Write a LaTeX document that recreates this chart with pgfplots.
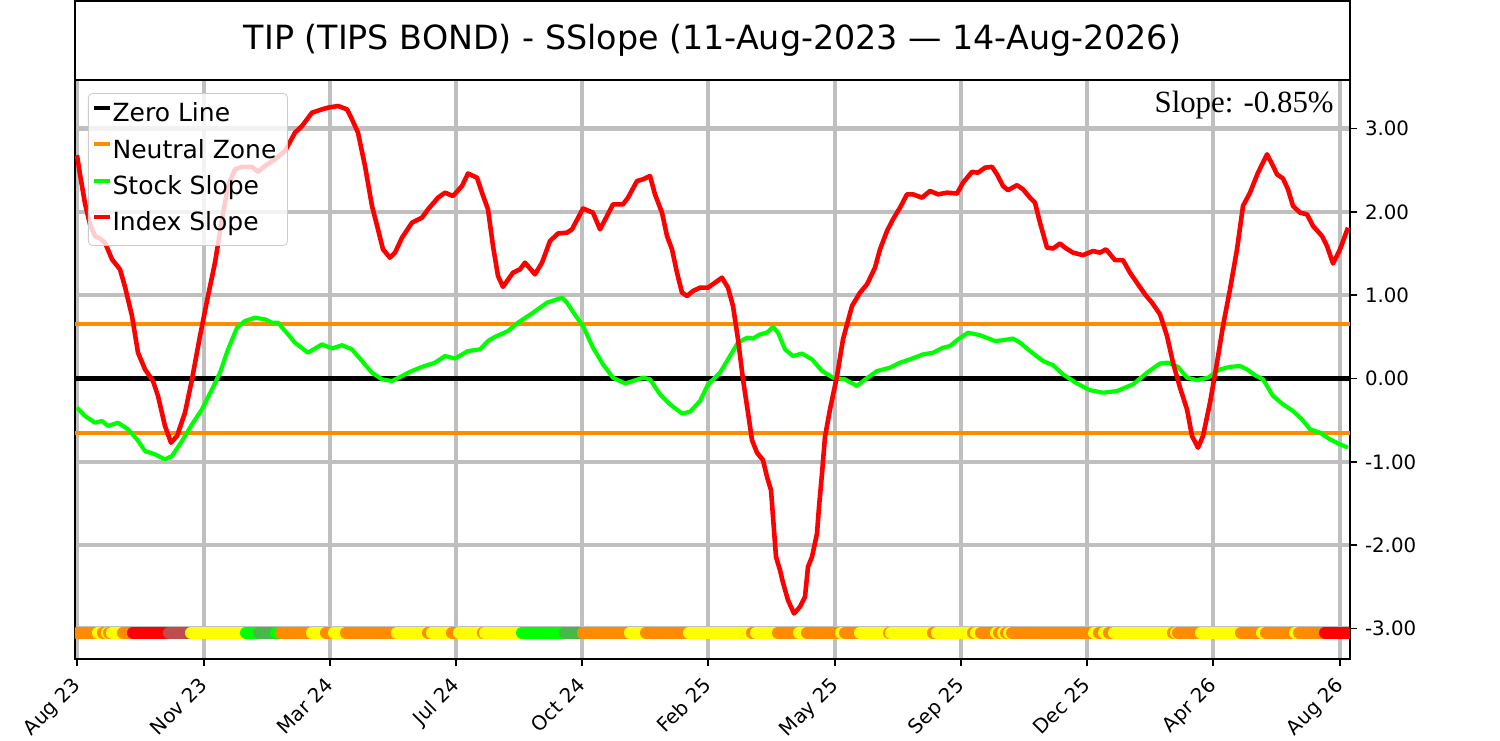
\documentclass[border=0pt]{standalone}
\usepackage{fontspec}
\setmainfont{DejaVu Sans}
\newfontfamily\seriffont{Liberation Serif}
\usepackage{pgfplots}
\usepackage{pgfplotstable}
\pgfplotsset{compat=1.18}
\definecolor{dorange}{HTML}{FF8C00}
\definecolor{slime}{HTML}{00FF00}
\definecolor{sred}{HTML}{FF0000}
\definecolor{syel}{HTML}{FFFF00}
\definecolor{brred}{RGB}{192,76,76}
\definecolor{mgreen}{RGB}{72,184,72}
\definecolor{gridgray}{RGB}{191,191,191}
\definecolor{leggray}{RGB}{204,204,204}
\newcommand\seg[3]{\addplot[draw=#1, line width=5.8pt, line cap=round, forget plot] coordinates {(#2,-3.05) (#3,-3.05)};}

\pgfplotstableread{
x y
77 2.68
80 2.45
85 2.10
90 1.85
95 1.71
100 1.68
105 1.63
112 1.43
120 1.31
125 1.10
132 0.75
138 0.31
145 0.11
153 -0.03
158 -0.21
165 -0.57
171 -0.77
177 -0.69
185 -0.41
192 -0.01
200 0.51
208 0.99
215 1.39
222 1.91
228 2.31
235 2.51
242 2.54
252 2.54
258 2.48
265 2.55
275 2.63
285 2.73
295 2.95
302 3.03
312 3.19
322 3.23
328 3.25
338 3.27
347 3.23
352 3.11
358 2.95
365 2.55
372 2.07
378 1.79
383 1.55
390 1.45
395 1.51
402 1.69
412 1.87
422 1.93
428 2.03
438 2.17
445 2.23
453 2.19
462 2.31
468 2.46
477 2.41
482 2.23
488 2.03
493 1.59
498 1.23
503 1.10
513 1.27
520 1.31
525 1.39
535 1.25
542 1.39
550 1.65
558 1.74
567 1.75
572 1.79
583 2.04
593 1.99
600 1.79
607 1.95
613 2.09
623 2.09
628 2.17
637 2.37
643 2.39
650 2.43
655 2.21
662 1.99
667 1.71
672 1.55
677 1.27
682 1.03
687 0.99
693 1.05
700 1.09
708 1.09
715 1.15
722 1.21
728 1.09
733 0.87
738 0.47
743 -0.01
748 -0.41
752 -0.74
757 -0.89
763 -0.98
767 -1.18
771 -1.34
773 -1.66
776 -2.14
780 -2.30
783 -2.45
788 -2.66
794 -2.82
800 -2.74
805 -2.62
808 -2.26
812 -2.14
817 -1.86
819 -1.54
822 -1.14
825 -0.70
830 -0.37
837 0.03
843 0.47
852 0.87
860 1.03
867 1.13
875 1.33
880 1.55
887 1.77
893 1.91
900 2.05
907 2.21
913 2.21
922 2.17
930 2.25
938 2.21
947 2.23
957 2.22
963 2.35
972 2.48
978 2.47
985 2.53
992 2.54
997 2.45
1003 2.31
1008 2.26
1017 2.32
1023 2.27
1030 2.17
1035 2.11
1040 1.87
1047 1.57
1053 1.56
1060 1.62
1065 1.57
1073 1.51
1083 1.48
1093 1.53
1100 1.51
1106 1.55
1115 1.42
1123 1.42
1130 1.27
1138 1.13
1145 1.01
1152 0.91
1160 0.77
1167 0.51
1173 0.19
1180 -0.11
1187 -0.37
1192 -0.69
1198 -0.83
1203 -0.69
1210 -0.29
1217 0.19
1223 0.63
1230 1.07
1237 1.55
1243 2.07
1250 2.23
1258 2.47
1267 2.69
1273 2.55
1277 2.45
1283 2.40
1288 2.27
1293 2.07
1300 1.99
1307 1.97
1313 1.83
1322 1.71
1327 1.59
1333 1.38
1340 1.55
1348 1.81
}\indexslope

\pgfplotstableread{
x y
77 -0.35
85 -0.45
95 -0.53
102 -0.51
108 -0.57
118 -0.53
128 -0.61
137 -0.73
145 -0.87
155 -0.91
165 -0.97
172 -0.93
182 -0.75
192 -0.55
202 -0.37
212 -0.13
220 0.07
228 0.35
237 0.61
245 0.69
255 0.73
265 0.71
272 0.67
278 0.67
288 0.53
295 0.43
308 0.31
322 0.41
332 0.36
342 0.40
352 0.35
362 0.21
372 0.07
382 -0.01
392 -0.03
402 0.03
408 0.07
422 0.14
435 0.19
445 0.27
455 0.24
468 0.33
480 0.35
488 0.45
495 0.50
508 0.57
518 0.67
533 0.79
547 0.91
562 0.97
567 0.91
577 0.73
583 0.63
593 0.37
603 0.17
613 0.01
625 -0.06
633 -0.03
643 0.01
650 -0.01
660 -0.19
670 -0.31
682 -0.42
690 -0.40
700 -0.27
708 -0.07
720 0.07
730 0.27
738 0.43
747 0.49
753 0.48
760 0.53
767 0.55
773 0.62
778 0.55
785 0.35
793 0.27
802 0.30
812 0.23
822 0.09
833 0.01
845 -0.01
857 -0.09
863 -0.03
877 0.09
890 0.13
900 0.19
910 0.23
923 0.29
933 0.31
943 0.37
950 0.39
958 0.47
968 0.55
980 0.52
995 0.45
1003 0.46
1013 0.48
1020 0.43
1030 0.33
1043 0.21
1053 0.16
1063 0.05
1077 -0.06
1090 -0.14
1103 -0.17
1117 -0.15
1133 -0.07
1147 0.07
1160 0.18
1168 0.19
1178 0.14
1187 0.01
1197 -0.02
1208 0.01
1220 0.11
1230 0.14
1240 0.15
1247 0.11
1255 0.04
1263 -0.01
1273 -0.21
1283 -0.31
1293 -0.39
1302 -0.49
1310 -0.61
1320 -0.65
1330 -0.73
1340 -0.79
1348 -0.83
}\stockslope

\begin{document}
\begin{tikzpicture}
\useasboundingbox (0,0) rectangle (720pt,355.68pt);
\draw[line width=0.8pt] (36pt,317.28pt) rectangle (648pt,355.28pt);
\node[font=\fontsize{16}{19}\selectfont, inner sep=0pt] at (342pt,336.48pt) {TIP (TIPS BOND) - SSlope (11-Aug-2023 — 14-Aug-2026)};
\begin{axis}[
  at={(36pt,39.36pt)}, anchor=south west,
  scale only axis, width=612pt, height=277.92pt,
  xmin=75, xmax=1350, ymin=-3.366, ymax=3.582,
  axis line style={black, line width=0.8pt},
  xtick={77,204,330,456,582,708,835,961,1087,1213,1340},
  xticklabels={Aug 23,Nov 23,Mar 24,Jul 24,Oct 24,Feb 25,May 25,Sep 25,Dec 25,Apr 26,Aug 26},
  ytick={-3,-2,-1,0,1,2,3},
  yticklabels={-3.00,-2.00,-1.00,0.00,1.00,2.00,3.00},
  xtick pos=left, ytick pos=right, yticklabel pos=right,
  tick align=outside, major tick length=3.5pt,
  tick style={black, line width=0.8pt},
  ticklabel style={font=\fontsize{9.5}{11}\selectfont},
  xticklabel style={xshift=-3pt, rotate=45, anchor=north east, inner sep=0pt},
  yticklabel style={anchor=west, inner sep=0pt},
  xticklabel shift=4.5pt, yticklabel shift=3.5pt,
  grid=major, major grid style={gridgray, line width=2pt},
  legend cell align=left,
  legend image code/.code={\draw[#1, line width=2pt] (2.4pt,3.4pt) -- (10.1pt,3.4pt);},
  legend style={at={(0.0102,0.9775)}, anchor=north west,
    draw=leggray, rounded corners=2pt, fill=white, fill opacity=0.8, text opacity=1,
    font=\fontsize{12}{14.4}\selectfont, inner xsep=1.9pt, inner ysep=4.5pt, row sep=6pt,
    nodes={inner sep=0pt, text height=9pt, text depth=2.5pt}},
]
\addplot[black, line width=2.2pt] coordinates {(75,0) (1350,0)};
\addlegendentry{Zero Line}
\addplot[dorange, line width=2pt] coordinates {(75,0.65) (1350,0.65)};
\addlegendentry{Neutral Zone\rule{3.4pt}{0pt}}
\addplot[dorange, line width=2pt, forget plot] coordinates {(75,-0.65) (1350,-0.65)};
\addplot[slime, line width=2pt, line join=round] table {\stockslope};
\addlegendentry{Stock Slope}
\addplot[sred, line width=2.2pt, line join=round] table {\indexslope};
\addlegendentry{Index Slope}
\seg{dorange}{77}{96}
\seg{syel}{98}{101}
\seg{dorange}{103}{105}
\seg{syel}{107}{107.5}
\seg{dorange}{109}{110}
\seg{syel}{112}{121}
\seg{dorange}{123}{131}
\seg{sred}{133}{167}
\seg{brred}{169}{189}
\seg{syel}{191}{244}
\seg{slime}{246}{257}
\seg{mgreen}{259}{274}
\seg{slime}{276}{279}
\seg{dorange}{281}{310}
\seg{syel}{312}{324}
\seg{dorange}{326}{332}
\seg{syel}{334}{344}
\seg{dorange}{346}{395}
\seg{syel}{397}{426}
\seg{dorange}{428}{430}
\seg{syel}{432}{450}
\seg{dorange}{452}{457}
\seg{syel}{459}{481}
\seg{dorange}{483}{483.5}
\seg{syel}{485}{520}
\seg{slime}{522}{563}
\seg{mgreen}{565}{581}
\seg{dorange}{583}{628}
\seg{syel}{630}{644}
\seg{dorange}{646}{687}
\seg{syel}{689}{750}
\seg{dorange}{752}{754}
\seg{syel}{756}{776}
\seg{dorange}{778}{797}
\seg{syel}{799}{805}
\seg{dorange}{807}{839}
\seg{syel}{841}{843}
\seg{dorange}{845}{858}
\seg{syel}{860}{887}
\seg{dorange}{889}{889.5}
\seg{syel}{891}{931}
\seg{dorange}{933}{935}
\seg{syel}{937}{971}
\seg{dorange}{973}{974}
\seg{syel}{976}{979}
\seg{dorange}{981}{994}
\seg{syel}{996}{997}
\seg{dorange}{999}{1001}
\seg{syel}{1003}{1004}
\seg{dorange}{1006}{1007}
\seg{syel}{1009}{1010}
\seg{dorange}{1012}{1092}
\seg{syel}{1094}{1097}
\seg{dorange}{1099}{1102}
\seg{syel}{1104}{1107}
\seg{dorange}{1109}{1112}
\seg{syel}{1114}{1171}
\seg{dorange}{1173}{1174}
\seg{syel}{1176}{1176.5}
\seg{dorange}{1178}{1199}
\seg{syel}{1201}{1239}
\seg{dorange}{1241}{1260}
\seg{syel}{1262}{1264}
\seg{dorange}{1266}{1293}
\seg{syel}{1295}{1297}
\seg{dorange}{1299}{1323}
\seg{sred}{1325}{1348}
\node[anchor=north east, inner sep=0pt, font=\seriffont\fontsize{14.8}{18}\selectfont] at (rel axis cs:0.98745,0.982) {Slope: -0.85\%};
\end{axis}
\end{tikzpicture}
\end{document}
